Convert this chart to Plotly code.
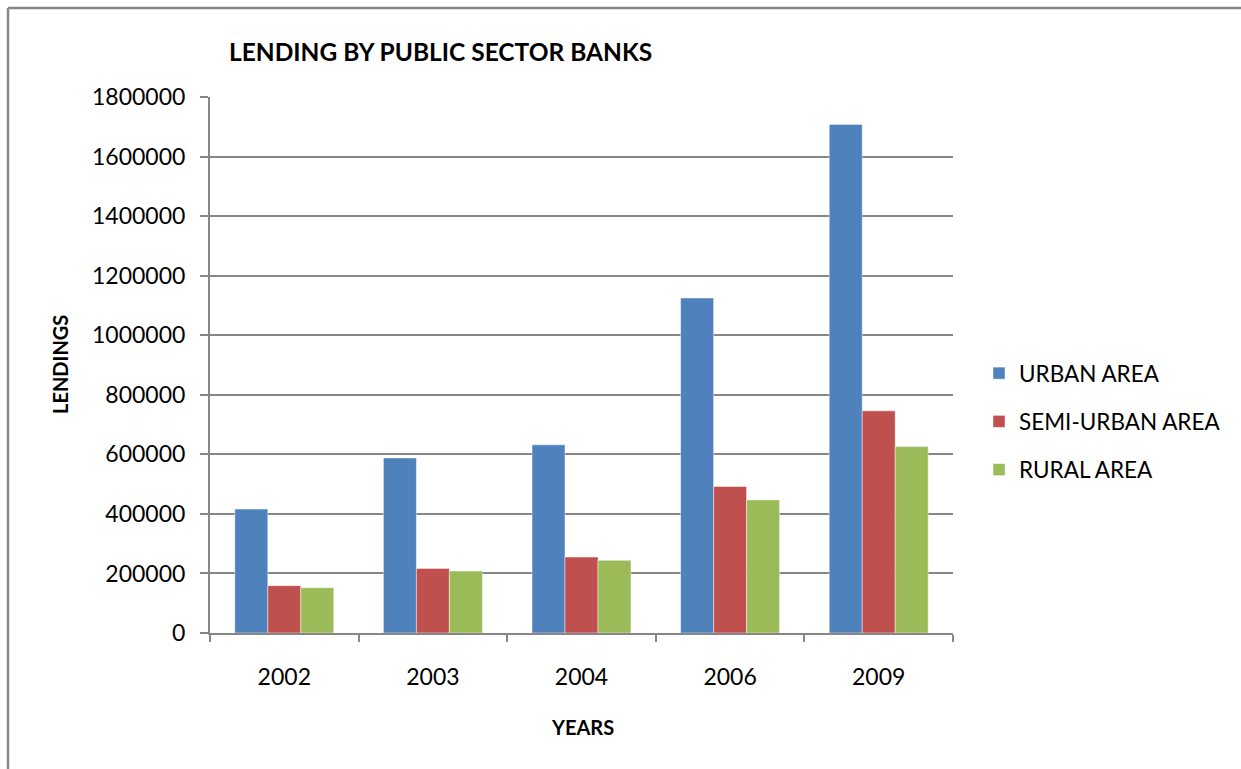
import plotly.graph_objects as go

# Lending by public sector banks, by population group
years = ["2002", "2003", "2004", "2006", "2009"]
urban = [416000, 588000, 632000, 1125000, 1708000]
semi_urban = [159000, 217000, 255000, 492000, 746000]
rural = [152000, 208000, 244000, 447000, 626000]

series_names = ["URBAN AREA", "SEMI-URBAN AREA", "RURAL AREA"]
series_colors = ["#4F81BD", "#C0504D", "#9BBB59"]
y_ticks = list(range(0, 1800001, 200000))

W, H = 1241, 769
L, R, T, B = 210, 288, 97, 136
PW, PH = W - L - R, H - T - B
FONT = "Lato, Carlito, Calibri, sans-serif"
AXIS_GREY = "#878787"


def px_x(x):
    return (x - L) / PW


def px_y(y):
    return (H - B - y) / PH


fig = go.Figure()
for name, vals, col in zip(series_names, [urban, semi_urban, rural], series_colors):
    fig.add_trace(go.Bar(
        x=years, y=vals, name=name, legendgroup=name,
        marker=dict(color=col, line=dict(color="rgba(255,255,255,0.45)", width=1)),
    ))

fig.update_layout(
    width=W, height=H,
    margin=dict(l=L, r=R, t=T, b=B),
    paper_bgcolor="white", plot_bgcolor="white",
    font=dict(family=FONT, color="black", size=23),
    barmode="group", bargap=0.334, bargroupgap=0,
    title=dict(
        text="<b>LENDING BY PUBLIC SECTOR BANKS</b>",
        font=dict(family=FONT, size=24.5, color="black"),
        x=px_x(229), xref="paper", xanchor="left",
        y=1 - 52 / H, yref="container", yanchor="middle",
    ),
    legend=dict(
        x=px_x(979), xanchor="left", y=px_y(352), yanchor="top",
        font=dict(family=FONT, size=22.5, color="black"),
        tracegroupgap=16, bgcolor="rgba(0,0,0,0)",
    ),
    xaxis=dict(
        type="category", showline=True, linecolor=AXIS_GREY, linewidth=2,
        ticks="outside", tickson="boundaries", ticklen=7, tickwidth=2,
        tickcolor=AXIS_GREY, tickfont=dict(size=23), ticklabelstandoff=22,
        showgrid=False,
    ),
    yaxis=dict(
        range=[0, 1800000], tickvals=y_ticks, tickformat="d",
        showline=True, linecolor=AXIS_GREY, linewidth=2,
        ticks="outside", ticklen=8, tickwidth=2, tickcolor=AXIS_GREY,
        showgrid=True, gridcolor=AXIS_GREY, gridwidth=2,
        tickfont=dict(size=23), ticklabelstandoff=10, zeroline=False,
    ),
    annotations=[
        dict(text="<b>LENDINGS</b>", textangle=-90, x=px_x(60), y=px_y(365),
             xref="paper", yref="paper", xanchor="center", yanchor="middle",
             showarrow=False, font=dict(family=FONT, size=20, color="black")),
        dict(text="<b>YEARS</b>", x=px_x(582), y=px_y(727),
             xref="paper", yref="paper", xanchor="center", yanchor="middle",
             showarrow=False, font=dict(family=FONT, size=20, color="black")),
    ],
    shapes=[
        dict(type="line", xref="paper", yref="paper",
             x0=px_x(8), x1=px_x(W + 10), y0=px_y(8), y1=px_y(8),
             line=dict(color=AXIS_GREY, width=2.5)),
        dict(type="line", xref="paper", yref="paper",
             x0=px_x(8), x1=px_x(8), y0=px_y(8), y1=px_y(H + 10),
             line=dict(color=AXIS_GREY, width=2.5)),
    ],
)

fig.write_html("out.html")
